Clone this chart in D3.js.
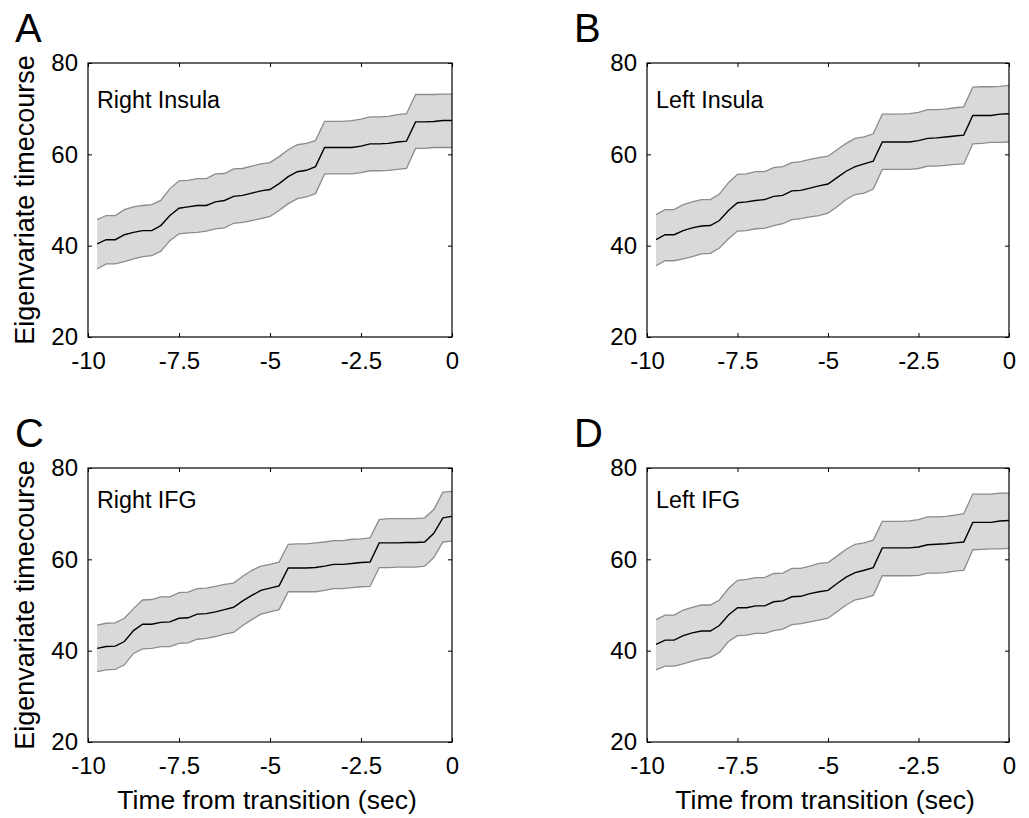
<!DOCTYPE html>
<html>
<head>
<meta charset="utf-8">
<script src="https://cdn.jsdelivr.net/npm/d3@7"></script>
<style>
  body { margin: 0; background: #fff; }
  svg { display: block; font-family: "Liberation Sans", Arial, Helvetica, sans-serif; }
  .axis text { font-size: 24px; fill: #000; }
  .axis line { stroke: #000; stroke-width: 1px; }
  .axis path { display: none; }
</style>
</head>
<body>
<svg id="chart"></svg>
<script>
// time points (sec before transition)
const times = [-9.75, -9.5, -9.25, -9, -8.75, -8.5, -8.25, -8, -7.75, -7.5,
  -7.25, -7, -6.75, -6.5, -6.25, -6, -5.75, -5.5, -5.25, -5,
  -4.75, -4.5, -4.25, -4, -3.75, -3.5, -3.25, -3, -2.75, -2.5,
  -2.25, -2, -1.75, -1.5, -1.25, -1, -0.75, -0.5, -0.25, 0];

const xTicks = [-10, -7.5, -5, -2.5, 0];
const xTickLabels = ['-10', '-7.5', '-5', '-2.5', '0'];
const yTicks = [20, 40, 60, 80];
const yTickLabels = ['20', '40', '60', '80'];

// A - Right Insula
const rInsulaMean = [40.4, 41.3, 41.3, 42.4, 42.9, 43.3, 43.3, 44.4, 46.6, 48.2,
  48.5, 48.8, 48.8, 49.6, 49.9, 50.8, 51.0, 51.5, 52.0, 52.3,
  53.6, 55.1, 56.2, 56.5, 57.3, 61.5, 61.5, 61.5, 61.5, 61.8,
  62.3, 62.3, 62.4, 62.7, 62.9, 67.1, 67.1, 67.2, 67.4, 67.4];
const rInsulaUpper = [45.7, 46.6, 46.6, 47.9, 48.5, 48.8, 49.0, 49.9, 52.5, 54.2,
  54.3, 54.7, 54.7, 55.7, 55.8, 56.8, 56.9, 57.4, 57.9, 58.2,
  59.5, 61.0, 62.1, 62.4, 63.0, 67.2, 67.2, 67.2, 67.4, 67.7,
  68.2, 68.2, 68.3, 68.7, 68.9, 73.1, 73.1, 73.1, 73.2, 73.2];
const rInsulaLower = [34.9, 36.0, 36.0, 36.5, 37.1, 37.6, 37.8, 38.8, 41.1, 42.6,
  42.8, 42.9, 43.2, 43.7, 43.9, 44.9, 45.1, 45.5, 45.9, 46.4,
  47.7, 49.2, 50.3, 50.7, 51.4, 55.7, 55.7, 55.7, 55.7, 56.0,
  56.4, 56.4, 56.5, 56.7, 56.9, 61.3, 61.3, 61.5, 61.5, 61.5];

// B - Left Insula
const lInsulaMean = [41.3, 42.4, 42.4, 43.3, 43.9, 44.3, 44.4, 45.5, 47.7, 49.4,
  49.6, 49.9, 50.1, 50.8, 51.0, 52.0, 52.1, 52.6, 53.1, 53.5,
  54.9, 56.3, 57.3, 57.9, 58.5, 62.7, 62.7, 62.7, 62.7, 63.0,
  63.5, 63.6, 63.8, 64.0, 64.2, 68.5, 68.5, 68.5, 68.8, 68.9];
const lInsulaUpper = [46.8, 47.9, 47.9, 49.0, 49.6, 50.1, 50.1, 51.3, 53.8, 55.6,
  55.7, 56.2, 56.2, 57.1, 57.3, 58.2, 58.4, 58.9, 59.3, 59.6,
  61.0, 62.4, 63.5, 63.8, 64.5, 68.8, 68.8, 68.8, 68.9, 69.2,
  69.8, 69.8, 69.9, 70.2, 70.4, 74.7, 74.8, 74.8, 74.9, 75.1];
const lInsulaLower = [35.6, 36.7, 36.7, 37.1, 37.6, 38.2, 38.3, 39.5, 41.5, 43.2,
  43.3, 43.7, 43.8, 44.4, 44.8, 45.7, 45.9, 46.3, 46.6, 47.1,
  48.5, 50.1, 51.2, 51.5, 52.4, 56.7, 56.7, 56.7, 56.7, 56.9,
  57.4, 57.4, 57.6, 57.8, 57.9, 62.3, 62.4, 62.6, 62.6, 62.7];

// C - Right IFG
const rIfgMean = [40.5, 40.9, 41.0, 42.0, 44.4, 45.8, 45.8, 46.2, 46.3, 47.1,
  47.2, 48.0, 48.1, 48.5, 49.0, 49.5, 50.9, 52.1, 53.2, 53.7,
  54.2, 58.1, 58.1, 58.1, 58.2, 58.5, 58.9, 58.9, 59.1, 59.3,
  59.4, 63.6, 63.6, 63.6, 63.7, 63.7, 63.8, 65.7, 69.1, 69.4];
const rIfgUpper = [45.6, 46.0, 46.1, 47.1, 49.2, 51.1, 51.2, 51.8, 51.8, 52.7,
  52.8, 53.6, 53.7, 54.1, 54.5, 54.8, 56.3, 57.6, 58.5, 58.9,
  59.4, 63.3, 63.4, 63.4, 63.6, 63.8, 64.1, 64.1, 64.4, 64.5,
  64.7, 68.7, 68.9, 68.9, 68.9, 68.9, 69.1, 70.9, 74.7, 74.9];
const rIfgLower = [35.4, 35.8, 35.9, 36.9, 39.4, 40.4, 40.5, 40.9, 40.9, 41.6,
  41.7, 42.5, 42.7, 43.1, 43.6, 44.0, 45.5, 46.8, 48.0, 48.5,
  49.0, 52.9, 52.9, 52.9, 52.9, 53.2, 53.6, 53.6, 53.8, 54.0,
  54.1, 58.2, 58.2, 58.3, 58.3, 58.3, 58.5, 60.4, 63.8, 64.0];

// D - Left IFG
const lIfgMean = [41.4, 42.3, 42.3, 43.3, 43.9, 44.3, 44.3, 45.5, 47.8, 49.4,
  49.4, 49.8, 49.8, 50.7, 50.9, 51.8, 51.9, 52.5, 52.9, 53.2,
  54.7, 56.1, 57.1, 57.6, 58.2, 62.5, 62.5, 62.5, 62.5, 62.7,
  63.2, 63.3, 63.4, 63.6, 63.8, 68.1, 68.1, 68.1, 68.4, 68.5];
const lIfgUpper = [46.8, 47.8, 47.8, 48.9, 49.5, 50.0, 50.0, 51.1, 53.6, 55.4,
  55.6, 56.0, 56.0, 56.9, 57.0, 58.0, 58.0, 58.5, 59.1, 59.3,
  60.7, 62.2, 63.3, 63.6, 64.2, 68.3, 68.3, 68.3, 68.4, 68.7,
  69.3, 69.3, 69.4, 69.7, 70.0, 74.3, 74.3, 74.3, 74.5, 74.5];
const lIfgLower = [35.8, 36.6, 36.6, 37.1, 37.7, 38.2, 38.5, 39.6, 42.0, 43.3,
  43.4, 43.8, 43.8, 44.4, 44.7, 45.7, 45.9, 46.3, 46.7, 47.1,
  48.5, 50.0, 51.1, 51.5, 52.1, 56.4, 56.4, 56.4, 56.4, 56.5,
  57.0, 57.0, 57.1, 57.4, 57.6, 62.1, 62.2, 62.3, 62.3, 62.4];

const panelLetters = ['A', 'B', 'C', 'D'];
const regionNames = ['Right Insula', 'Left Insula', 'Right IFG', 'Left IFG'];
const yTitle = 'Eigenvariate timecourse';
const xTitle = 'Time from transition (sec)';

const svg = d3.select('#chart')
    .attr('width', 1029)
    .attr('height', 818);

/**
 * Draw one panel: grey band (lower..upper) with the mean line on top
 */
function drawPanel(cfg) {
  const width = cfg.right - cfg.left;
  const height = cfg.bottom - cfg.top;

  const xScale = d3.scaleLinear().domain([-10, 0]).range([0, width]);
  const yScale = d3.scaleLinear().domain([20, 80]).range([height, 0]);

  const g = svg.append('g')
      .attr('transform', `translate(${cfg.left},${cfg.top})`);

  const rows = times.map((t, i) => ({t: t, m: cfg.mean[i], hi: cfg.upper[i], lo: cfg.lower[i]}));

  const area = d3.area()
      .x(d => xScale(d.t))
      .y0(d => yScale(d.lo))
      .y1(d => yScale(d.hi));

  g.append('path')
      .datum(rows)
      .attr('d', area)
      .attr('fill', '#d9d9d9');

  // band edges
  ['hi', 'lo'].forEach(k => {
    g.append('path')
        .datum(rows)
        .attr('d', d3.line().x(d => xScale(d.t)).y(d => yScale(d[k])))
        .attr('fill', 'none')
        .attr('stroke', '#8c8c8c')
        .attr('stroke-width', 1.3);
  });

  g.append('path')
      .datum(rows)
      .attr('d', d3.line().x(d => xScale(d.t)).y(d => yScale(d.m)))
      .attr('fill', 'none')
      .attr('stroke', '#000')
      .attr('stroke-width', 1.4);

  // axes, ticks pointing inward on all four sides
  const fmtX = d => xTickLabels[xTicks.indexOf(d)];
  const fmtY = d => yTickLabels[yTicks.indexOf(d)];

  g.append('g')
      .attr('class', 'axis')
      .attr('transform', `translate(0,${height})`)
      .call(d3.axisBottom(xScale).tickValues(xTicks).tickFormat(fmtX)
        .tickSizeInner(-4).tickSizeOuter(0).tickPadding(15));
  g.append('g')
      .attr('class', 'axis')
      .call(d3.axisTop(xScale).tickValues(xTicks).tickFormat('')
        .tickSizeInner(-4).tickSizeOuter(0));
  g.append('g')
      .attr('class', 'axis')
      .call(d3.axisLeft(yScale).tickValues(yTicks).tickFormat(fmtY)
        .tickSizeInner(-4).tickSizeOuter(0).tickPadding(10));
  g.append('g')
      .attr('class', 'axis')
      .attr('transform', `translate(${width},0)`)
      .call(d3.axisRight(yScale).tickValues(yTicks).tickFormat('')
        .tickSizeInner(-4).tickSizeOuter(0));

  g.append('rect')
      .attr('width', width)
      .attr('height', height)
      .attr('fill', 'none')
      .attr('stroke', '#000')
      .attr('stroke-width', 1.2);

  g.append('text')
      .attr('x', 9)
      .attr('y', cfg.labelY)
      .style('font-size', '23.3px')
      .text(cfg.name);

  svg.append('text')
      .attr('x', cfg.left - 73)
      .attr('y', cfg.top - 21)
      .style('font-size', '40px')
      .text(cfg.letter);

  if (cfg.showY) {
    svg.append('text')
        .attr('transform', `translate(${cfg.left - 54},${cfg.top + height / 2}) rotate(-90)`)
        .attr('text-anchor', 'middle')
        .style('font-size', '27px')
        .text(yTitle);
  }
  if (cfg.showX) {
    svg.append('text')
        .attr('x', cfg.left + width / 2 - 3)
        .attr('y', cfg.bottom + 67)
        .attr('text-anchor', 'middle')
        .style('font-size', '26.5px')
        .text(xTitle);
  }
}

const panels = [
  {left: 88, right: 452, top: 63, bottom: 337, mean: rInsulaMean, upper: rInsulaUpper, lower: rInsulaLower, labelY: 45, showY: true, showX: false},
  {left: 647, right: 1009, top: 63, bottom: 337, mean: lInsulaMean, upper: lInsulaUpper, lower: lInsulaLower, labelY: 45, showY: false, showX: false},
  {left: 88, right: 452, top: 468, bottom: 742, mean: rIfgMean, upper: rIfgUpper, lower: rIfgLower, labelY: 40, showY: true, showX: true},
  {left: 647, right: 1009, top: 468, bottom: 742, mean: lIfgMean, upper: lIfgUpper, lower: lIfgLower, labelY: 40, showY: false, showX: true}
];

panels.forEach((p, i) => {
  p.letter = panelLetters[i];
  p.name = regionNames[i];
  drawPanel(p);
});
</script>
</body>
</html>
